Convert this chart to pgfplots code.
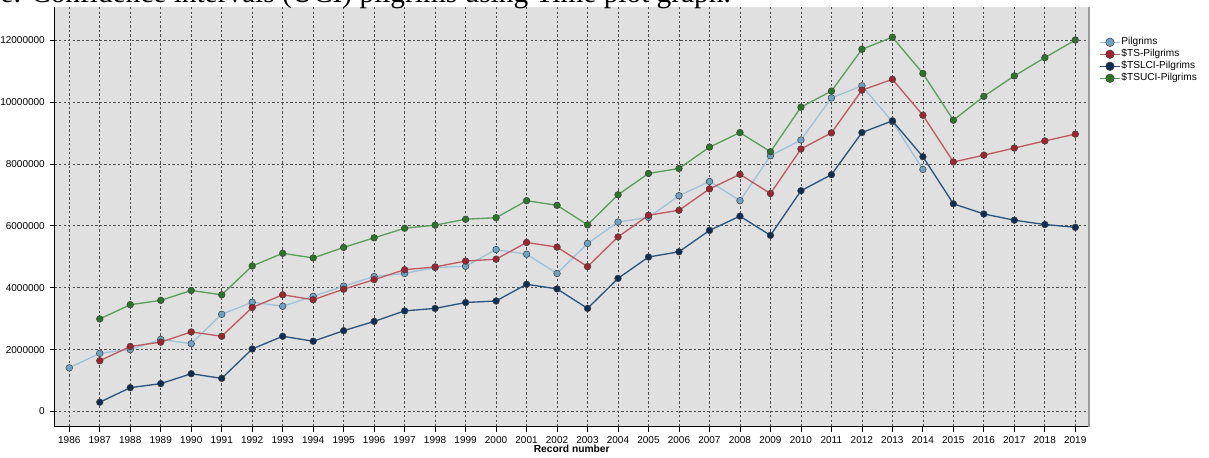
\documentclass[border=0pt]{standalone}
\usepackage{fontspec}
\setmainfont{Liberation Sans}
\newfontfamily\capfont{Liberation Serif}
\usepackage{pgfplots}
\pgfplotsset{compat=1.18}
\definecolor{bggray}{HTML}{E0E0E0}
\definecolor{pilline}{HTML}{9EC2DA}
\definecolor{pilfill}{HTML}{6FA3C4}
\definecolor{tsline}{HTML}{C05A62}
\definecolor{tsfill}{HTML}{9E2530}
\definecolor{lcline}{HTML}{2B5580}
\definecolor{lcfill}{HTML}{0F2C52}
\definecolor{ucline}{HTML}{5C9E5C}
\definecolor{ucfill}{HTML}{2A752A}
\begin{document}
\begin{tikzpicture}
\useasboundingbox (-40.875pt,-22.875pt) rectangle (865.875pt,319.875pt);
\begin{axis}[
  name=ax,
  at={(0pt,0pt)}, anchor=south west,
  width=775.9pt, height=314.6pt, scale only axis,
  xmin=1985.515, xmax=2019.45, ymin=-484500, ymax=13065000,
  axis background/.style={fill=bggray},
  axis x line*=bottom, axis y line*=left,
  axis line style={-, black, line width=0.7pt},
  xtick={1986,...,2019},
  ytick={0,2000000,4000000,6000000,8000000,10000000,12000000},
  grid=major,
  major grid style={black!70, line width=0.45pt, dash pattern=on 1.8pt off 1.6pt},
  tick align=outside, major tick length=3.75pt,
  tick style={black, line width=0.5pt},
  /pgf/number format/assume math mode=true,
  xticklabel style={/pgf/number format/1000 sep={}},
  scaled y ticks=false,
  yticklabel style={/pgf/number format/fixed, /pgf/number format/precision=0, /pgf/number format/1000 sep={}},
  ticklabel style={font=\fontsize{7.5}{9}\selectfont},
  xlabel={Record number},
  xlabel style={at={(axis description cs:0.5,0)}, anchor=base, yshift=-19.8pt, font=\bfseries\fontsize{7.7}{9}\selectfont},
  legend style={at={(1.0058,0.936)}, anchor=north west, draw=none, fill=none,
    font=\fontsize{7.6}{9}\selectfont, row sep=0.8pt,
    nodes={inner sep=0.6pt, text height=5.5pt, text depth=1.5pt}},
  legend cell align=left,
  legend image code/.code={\draw[mark repeat=2,mark phase=2,#1,mark size=3.2pt] plot coordinates {(0pt,0pt) (7.5pt,0pt) (15pt,0pt)};},
  every axis plot/.append style={line width=1pt},
]
\addplot[pilline, mark=*, mark size=2.5pt, mark options={draw=black!75, fill=pilfill, line width=0.4pt}] coordinates {
(1986,1410000) (1987,1880000) (1988,2000000) (1989,2330000) (1990,2190000)
(1991,3140000) (1992,3530000) (1993,3400000) (1994,3720000) (1995,4050000)
(1996,4360000) (1997,4460000) (1998,4650000) (1999,4690000) (2000,5230000)
(2001,5080000) (2002,4460000) (2003,5430000) (2004,6120000) (2005,6270000)
(2006,6970000) (2007,7430000) (2008,6810000) (2009,8260000) (2010,8770000)
(2011,10130000) (2012,10520000) (2013,9360000) (2014,7820000)};
\addlegendentry{Pilgrims}
\addplot[tsline, mark=*, mark size=2.5pt, mark options={draw=black!75, fill=tsfill, line width=0.4pt}] coordinates {
(1987,1640000) (1988,2100000) (1989,2240000) (1990,2570000) (1991,2430000)
(1992,3360000) (1993,3770000) (1994,3610000) (1995,3950000) (1996,4260000)
(1997,4580000) (1998,4670000) (1999,4860000) (2000,4920000) (2001,5460000)
(2002,5310000) (2003,4680000) (2004,5640000) (2005,6340000) (2006,6500000)
(2007,7190000) (2008,7660000) (2009,7040000) (2010,8480000) (2011,9000000)
(2012,10380000) (2013,10730000) (2014,9570000) (2015,8060000) (2016,8280000)
(2017,8510000) (2018,8740000) (2019,8960000)};
\addlegendentry{\$TS-Pilgrims}
\addplot[lcline, mark=*, mark size=2.5pt, mark options={draw=black!75, fill=lcfill, line width=0.4pt}] coordinates {
(1987,300000) (1988,770000) (1989,900000) (1990,1220000) (1991,1070000)
(1992,2020000) (1993,2430000) (1994,2270000) (1995,2610000) (1996,2910000)
(1997,3250000) (1998,3330000) (1999,3520000) (2000,3570000) (2001,4110000)
(2002,3960000) (2003,3330000) (2004,4300000) (2005,4990000) (2006,5160000)
(2007,5850000) (2008,6310000) (2009,5690000) (2010,7130000) (2011,7650000)
(2012,9010000) (2013,9390000) (2014,8230000) (2015,6710000) (2016,6380000)
(2017,6180000) (2018,6040000) (2019,5950000)};
\addlegendentry{\$TSLCI-Pilgrims}
\addplot[ucline, mark=*, mark size=2.5pt, mark options={draw=black!75, fill=ucfill, line width=0.4pt}] coordinates {
(1987,2990000) (1988,3450000) (1989,3590000) (1990,3910000) (1991,3770000)
(1992,4700000) (1993,5110000) (1994,4960000) (1995,5300000) (1996,5610000)
(1997,5920000) (1998,6020000) (1999,6210000) (2000,6260000) (2001,6810000)
(2002,6660000) (2003,6030000) (2004,7000000) (2005,7690000) (2006,7850000)
(2007,8540000) (2008,9010000) (2009,8390000) (2010,9830000) (2011,10350000)
(2012,11700000) (2013,12090000) (2014,10920000) (2015,9410000) (2016,10180000)
(2017,10840000) (2018,11430000) (2019,12000000)};
\addlegendentry{\$TSUCI-Pilgrims}
\end{axis}
\draw[black!40, line width=1pt] (ax.south east) -- (ax.north east);
\node[anchor=base west, inner sep=0pt, font=\capfont\fontsize{22}{26}\selectfont] at (-40.875pt,317.9pt) {e: Confidence intervals (UCI) pilgrims using Time plot graph.};
\end{tikzpicture}
\end{document}
